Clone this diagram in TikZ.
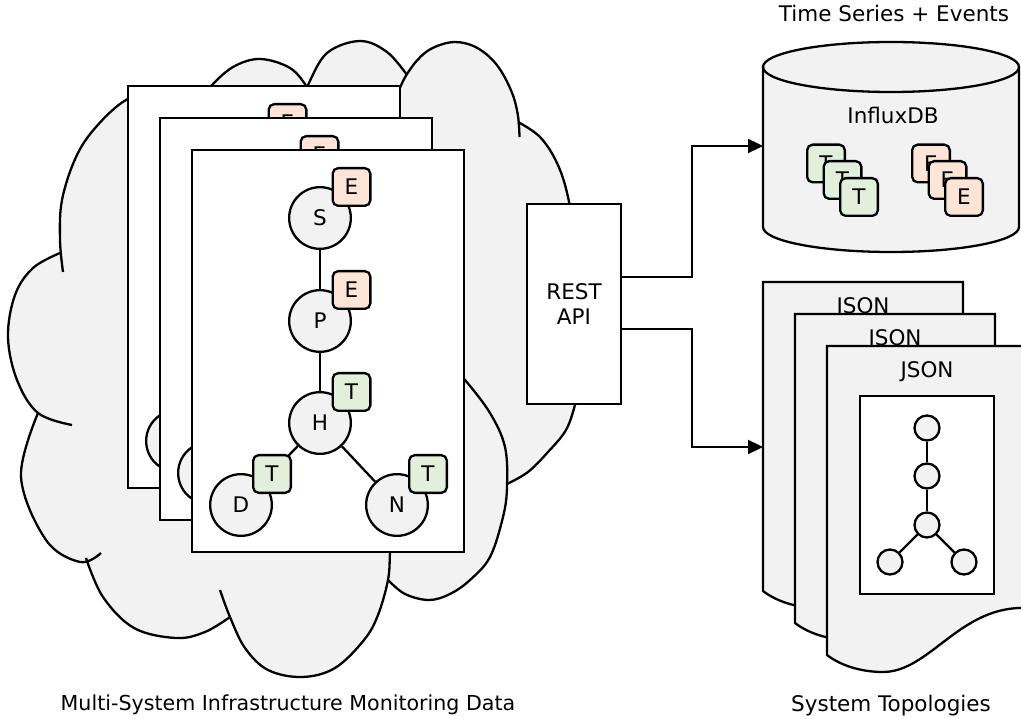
\documentclass[tikz,border=0pt]{standalone}
\usepackage{fontspec}
\setmainfont{DejaVu Sans}
\usetikzlibrary{arrows.meta}
\definecolor{cloudgray}{HTML}{F2F2F2}
\definecolor{evfill}{HTML}{FCE4D6}
\definecolor{tsfill}{HTML}{E2EFDA}
\begin{document}
\begin{tikzpicture}[x=1pt, y=-1pt, line width=2.3pt,
  font=\fontsize{21.5}{25}\selectfont,
  lobe/.style={draw=black, line width=2.3pt},
  cloudbody/.style={fill=cloudgray},
  sheet/.style={draw=black, fill=white},
  vertex/.style={circle, draw, fill=cloudgray, minimum size=61.7pt, inner sep=0pt},
  tagbox/.style={draw, rounded corners=5.5pt, minimum width=37.7pt, minimum height=37.7pt, inner sep=0pt},
  evtag/.style={tagbox, fill=evfill},
  tstag/.style={tagbox, fill=tsfill},
  flow/.style={draw, -{Triangle[length=15pt, width=14pt]}},
  docsheet/.style={draw, fill=cloudgray},
  mini/.style={circle, draw, fill=cloudgray, minimum size=25pt, inner sep=0pt},
  caption/.style={anchor=base, inner sep=0pt}
]
\useasboundingbox (0,0) rectangle (1021,719);

% ---------- cloud: filled fans, then lobe outlines ----------
\coordinate (cc) at (300,380);
\fill[cloudbody] (cc) -- plot[smooth, tension=0.6] coordinates {(101,553) (80,562) (46,540) (21,477) (38,413)} -- cycle;
\fill[cloudbody] (cc) -- plot[smooth, tension=0.6] coordinates {(72,425) (38,413) (17,380) (8,337) (15,295) (33,268) (60,253)} -- cycle;
\fill[cloudbody] (cc) -- plot[smooth, tension=0.6] coordinates {(63,272) (60,240) (62,200) (76,157) (96,127) (126,100) (160,90)} -- cycle;
\fill[cloudbody] (cc) -- plot[smooth, tension=0.6] coordinates {(205,96) (210,87) (233,67) (260,59) (290,68) (307,87) (310,96)} -- cycle;
\fill[cloudbody] (cc) -- plot[smooth, tension=0.6] coordinates {(305,96) (308,85) (327,53) (360,41) (387,52) (407,75)} -- cycle;
\fill[cloudbody] (cc) -- plot[smooth, tension=0.6] coordinates {(398.7,91) (405.2,77) (417.7,59.7) (432.8,47.9) (455,42) (477.2,47.9) (496.8,64.9) (511.3,91) (517.8,114.6) (519.5,137)} -- cycle;
\fill[cloudbody] (cc) -- plot[smooth, tension=0.6] coordinates {(518,122) (540,137) (557,163) (568,197) (576,250) (579,320) (577,392)} -- cycle;
\fill[cloudbody] (cc) -- plot[smooth, tension=0.6] coordinates {(578,390) (575,405) (566,430) (548,452) (528,472) (507,484)} -- cycle;
\fill[cloudbody] (cc) -- plot[smooth, tension=0.6] coordinates {(455,372) (465,380) (490,413) (505,447) (507,487) (503,517) (490,557) (470,580) (450,594) (429,600) (405,594) (388,580)} -- cycle;
\fill[cloudbody] (cc) -- plot[smooth, tension=0.6] coordinates {(391,545) (390,553) (388,580) (378,615) (364,640) (335,668) (302,677) (268,670) (245,648) (230,617) (220,590)} -- cycle;
\fill[cloudbody] (cc) -- plot[smooth, tension=0.6] coordinates {(230,617) (205,632) (176,638) (134,628) (103,597) (86,558)} -- cycle;

\draw[lobe] plot[smooth, tension=0.6] coordinates {(101,553) (80,562) (46,540) (21,477) (38,413)};
\draw[lobe] plot[smooth, tension=0.6] coordinates {(72,425) (38,413) (17,380) (8,337) (15,295) (33,268) (60,253)};
\draw[lobe] plot[smooth, tension=0.6] coordinates {(63,272) (60,240) (62,200) (76,157) (96,127) (126,100) (160,90)};
\draw[lobe] plot[smooth, tension=0.6] coordinates {(205,96) (210,87) (233,67) (260,59) (290,68) (307,87) (310,96)};
\draw[lobe] plot[smooth, tension=0.6] coordinates {(305,96) (308,85) (327,53) (360,41) (387,52) (407,75)};
\draw[lobe] plot[smooth, tension=0.6] coordinates {(398.7,91) (405.2,77) (417.7,59.7) (432.8,47.9) (455,42) (477.2,47.9) (496.8,64.9) (511.3,91) (517.8,114.6) (519.5,137)};
\draw[lobe] plot[smooth, tension=0.6] coordinates {(518,122) (540,137) (557,163) (568,197) (576,250) (579,320) (577,392)};
\draw[lobe] plot[smooth, tension=0.6] coordinates {(578,390) (575,405) (566,430) (548,452) (528,472) (507,484)};
\draw[lobe] plot[smooth, tension=0.6] coordinates {(455,372) (465,380) (490,413) (505,447) (507,487) (503,517) (490,557) (470,580) (450,594) (429,600) (405,594) (388,580)};
\draw[lobe] plot[smooth, tension=0.6] coordinates {(391,545) (390,553) (388,580) (378,615) (364,640) (335,668) (302,677) (268,670) (245,648) (230,617) (220,590)};
\draw[lobe] plot[smooth, tension=0.6] coordinates {(230,617) (205,632) (176,638) (134,628) (103,597) (86,558)};

% ---------- stacked topology pages ----------
\foreach \k/\d in {1/-64,2/-32,3/0}{
  \begin{scope}[shift={(\d,\d)}]
    \draw[sheet] (192,150) rectangle (464,552);
    \node[vertex] (S\k) at (320,218) {S};
    \node[vertex] (P\k) at (320,321) {P};
    \node[vertex] (H\k) at (320,423) {H};
    \node[vertex] (D\k) at (241,505) {D};
    \node[vertex] (N\k) at (397,505) {N};
    \draw (S\k) -- (P\k);
    \draw (P\k) -- (H\k);
    \draw (H\k) -- (D\k);
    \draw (H\k) -- (N\k);
    \node[evtag] (eS\k) at (351.5,187) {E};
    \node[evtag] (eP\k) at (351.5,290) {E};
    \node[tstag] (tH\k) at (351.5,392) {T};
    \node[tstag] (tD\k) at (272,474) {T};
    \node[tstag] (tN\k) at (428,474) {T};
  \end{scope}
}

% ---------- REST API and its outputs ----------
\node[sheet, minimum width=93.7pt, minimum height=199.7pt, align=center, inner sep=0pt] (rest) at (574,304) {REST\\API};
\coordinate (dbin) at (763,146);
\coordinate (docin) at (763,447);
\draw[flow] ([yshift=27pt]rest.east) -- ++(70,0) |- (dbin);
\draw[flow] ([yshift=-25pt]rest.east) -- ++(70,0) |- (docin);

% ---------- InfluxDB cylinder ----------
\fill[cloudgray] (763,67) -- (763,227) arc[start angle=180, end angle=360, x radius=128pt, y radius=25pt]
  -- (1019,67) arc[start angle=0, end angle=180, x radius=128pt, y radius=25pt] -- cycle;
\draw (763,67) -- (763,227) arc[start angle=180, end angle=360, x radius=128pt, y radius=25pt] -- (1019,67);
\draw (891,67) ellipse[x radius=128pt, y radius=25pt];
\node[caption] (dbname) at (893,124) {InfluxDB};
\node[tstag] (ts1) at (826,163.5) {T};
\node[tstag] (ts2) at (842.5,180) {T};
\node[tstag] (ts3) at (859,197) {T};
\node[evtag] (ev1) at (931,163.5) {E};
\node[evtag] (ev2) at (947.5,180) {E};
\node[evtag] (ev3) at (964,197) {E};

% ---------- JSON topology documents ----------
\foreach \k/\d in {1/-64,2/-32,3/0}{
  \begin{scope}[shift={(\d,\d)}]
    \draw[docsheet] (827,346) -- (1027,346) -- (1027,608)
      .. controls (960,605) and (930,672) .. (883,672)
      .. controls (860,672) and (840,665) .. (827,655) -- cycle;
    \node[caption] (json\k) at (927,378) {JSON};
  \end{scope}
}
\draw[sheet] (860,396) rectangle (994,594);
\node[mini] (m1) at (927,428) {};
\node[mini] (m2) at (927,476) {};
\node[mini] (m3) at (927,525) {};
\node[mini] (m4) at (890,562) {};
\node[mini] (m5) at (964,562) {};
\draw (m1) -- (m2);
\draw (m2) -- (m3);
\draw (m3) -- (m4);
\draw (m3) -- (m5);

% ---------- captions ----------
\node[caption] (capts) at (894,22) {Time Series + Events};
\node[caption, font=\fontsize{20.6}{24}\selectfont] (capmon) at (288,710.5) {Multi-System Infrastructure Monitoring Data};
\node[caption] (captop) at (891,711) {System Topologies};
\end{tikzpicture}
\end{document}
